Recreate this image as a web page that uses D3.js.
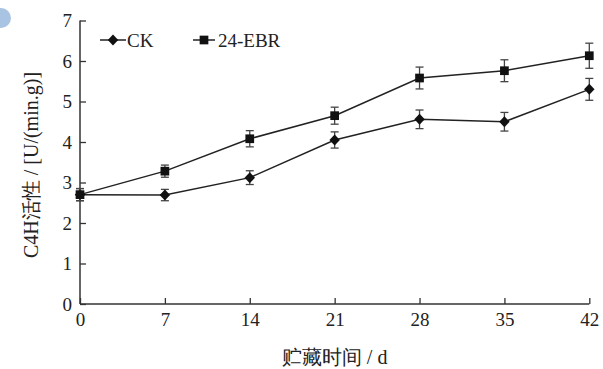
<!DOCTYPE html>
<html>
<head>
<meta charset="utf-8">
<script src="https://cdn.jsdelivr.net/npm/d3@7"></script>
<style>
  html, body { margin: 0; padding: 0; background: #fff; }
  svg { display: block; }
  text { font-family: "Liberation Serif", "Times New Roman", serif; fill: #222; }
</style>
</head>
<body>
<svg id="chart" width="603" height="369"></svg>
<script>
// Storage days and C4H activity (mean ± error)
const days = [0, 7, 14, 21, 28, 35, 42];
const ckValues  = [2.70, 2.69, 3.12, 4.05, 4.56, 4.50, 5.30];
const ckErrors  = [0.15, 0.14, 0.17, 0.20, 0.23, 0.23, 0.27];
const ebrValues = [2.70, 3.28, 4.08, 4.65, 5.58, 5.76, 6.13];
const ebrErrors = [0.15, 0.15, 0.20, 0.21, 0.27, 0.27, 0.31];
const seriesNames = ["CK", "24-EBR"];
const xTicks = [0, 7, 14, 21, 28, 35, 42];
const yTicks = [0, 1, 2, 3, 4, 5, 6, 7];

const svg = d3.select("#chart");
const ink = "#222";

// small blue corner ornament
svg.append("path")
  .attr("d", "M0,8 L1,8 A10,10 0 0 1 1,28 L0,28 Z")
  .attr("fill", "#a9c3e2");

const x = d3.scaleLinear().domain([0, 42]).range([80, 589.3]);
const y = d3.scaleLinear().domain([0, 7]).range([304, 20.5]);

// axes with inward ticks
const xAxis = d3.axisBottom(x).tickValues(xTicks).tickSize(-6).tickPadding(9).tickFormat(d3.format("d"));
const yAxis = d3.axisLeft(y).tickValues(yTicks).tickSize(-6).tickPadding(8).tickFormat(d3.format("d"));

const gx = svg.append("g").attr("transform", `translate(0,${y(0)})`).call(xAxis);
const gy = svg.append("g").attr("transform", `translate(${x(0)},0)`).call(yAxis);
[gx, gy].forEach(g => {
  g.select(".domain").attr("stroke", "#333").attr("stroke-width", 1.5);
  g.selectAll(".tick line").attr("stroke", "#333").attr("stroke-width", 1.3);
  g.selectAll(".tick text")
    .attr("font-family", "'Liberation Serif', serif")
    .attr("font-size", 19).attr("fill", ink);
});
gy.select(".domain").attr("d", `M0,${y(7)}V${y(0)}`);
gx.select(".domain").attr("d", `M${x(0)},0H${x(42)}`);

// axis titles
svg.append("text")
  .attr("x", x(21)).attr("y", 364)
  .attr("text-anchor", "middle")
  .attr("font-size", 20)
  .text("贮藏时间 / d");

svg.append("text")
  .attr("transform", `translate(38,165) rotate(-90)`)
  .attr("text-anchor", "middle")
  .attr("font-size", 20)
  .text("C4H活性 / [U/(min.g)]");

// diamond with equal width and height
const diamond = {
  draw(ctx, size) {
    const r = Math.sqrt(size) / 2 * 1.3;
    ctx.moveTo(0, -r); ctx.lineTo(r * 0.95, 0); ctx.lineTo(0, r); ctx.lineTo(-r * 0.95, 0); ctx.closePath();
  }
};

const series = [
  { name: seriesNames[0], values: ckValues, errors: ckErrors, shape: diamond, size: 72 },
  { name: seriesNames[1], values: ebrValues, errors: ebrErrors, shape: d3.symbolSquare, size: 76 }
];

const line = d3.line().x(d => x(d.day)).y(d => y(d.v));

series.forEach(s => {
  const pts = days.map((day, i) => ({ day, v: s.values[i], e: s.errors[i] }));
  const g = svg.append("g");

  g.append("path").datum(pts)
    .attr("d", line).attr("fill", "none")
    .attr("stroke", ink).attr("stroke-width", 1.5);

  const eb = g.selectAll(".eb").data(pts).enter().append("g");
  eb.append("line")
    .attr("x1", d => x(d.day)).attr("x2", d => x(d.day))
    .attr("y1", d => y(d.v + d.e)).attr("y2", d => y(d.v - d.e))
    .attr("stroke", "#444").attr("stroke-width", 1.3);
  [1, -1].forEach(sign => {
    eb.append("line")
      .attr("x1", d => x(d.day) - 4).attr("x2", d => x(d.day) + 4)
      .attr("y1", d => y(d.v + sign * d.e)).attr("y2", d => y(d.v + sign * d.e))
      .attr("stroke", "#444").attr("stroke-width", 1.3);
  });

  g.selectAll(".pt").data(pts).enter().append("path")
    .attr("transform", d => `translate(${x(d.day)},${y(d.v)})`)
    .attr("d", d3.symbol().type(s.shape).size(s.size))
    .attr("fill", "#111");
});

// legend
const legend = [
  { s: series[0], x0: 100, x1: 126, tx: 127 },
  { s: series[1], x0: 193, x1: 215, tx: 218 }
];
legend.forEach(l => {
  const ly = 40;
  svg.append("line").attr("x1", l.x0).attr("x2", l.x1)
    .attr("y1", ly).attr("y2", ly).attr("stroke", ink).attr("stroke-width", 1.5);
  svg.append("path")
    .attr("transform", `translate(${(l.x0 + l.x1) / 2},${ly})`)
    .attr("d", d3.symbol().type(l.s.shape).size(l.s.size))
    .attr("fill", "#111");
  svg.append("text").attr("x", l.tx).attr("y", ly + 6.5)
    .attr("font-size", 19).text(l.s.name);
});
</script>
</body>
</html>
